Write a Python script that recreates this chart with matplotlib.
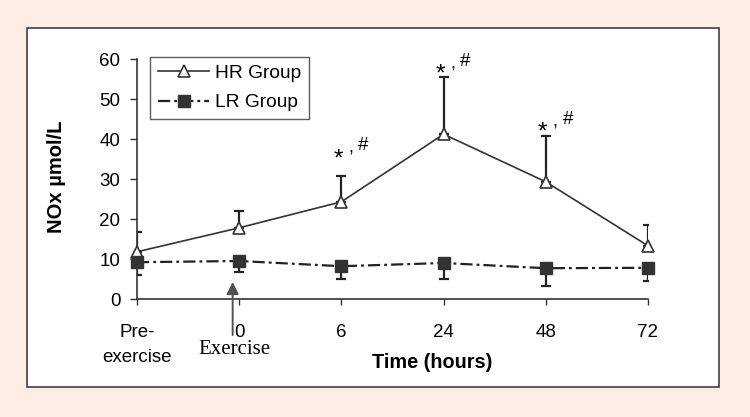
import matplotlib
matplotlib.use("Agg")
import matplotlib.pyplot as plt
from matplotlib.patches import Rectangle

categories = ["Pre-\nexercise", "0", "6", "24", "48", "72"]
hr_mean = [11.8, 17.8, 24.3, 41.2, 29.3, 13.3]
hr_err = [5.0, 4.3, 6.5, 14.2, 11.4, 5.2]
lr_mean = [9.2, 9.5, 8.2, 9.0, 7.7, 7.8]
lr_err = [3.2, 2.8, 3.2, 4.0, 4.4, 3.3]
sig_idx = [2, 3, 4]

plt.rcParams['font.family'] = ['Liberation Sans', 'DejaVu Sans']

fig = plt.figure(figsize=(7.5, 4.17), dpi=100)
fig.patch.set_facecolor('#FDEDE4')
fig.patches.append(Rectangle((27/750, 1-387/417), (719-27)/750, (387-28)/417,
                             transform=fig.transFigure, facecolor='white',
                             edgecolor='#404040', linewidth=1.2, zorder=-5))

ax = fig.add_axes([137/750, 1-299/417, (648-137)/750, (299-59)/417])
ax.set_facecolor('none')
x = list(range(len(categories)))

ax.errorbar(x, hr_mean, yerr=[[0]*len(x), hr_err], fmt='none', ecolor='#222222',
            elinewidth=1.6, capsize=3.8, capthick=1.6, zorder=2)
ax.errorbar(x, lr_mean, yerr=[lr_err, [0]*len(x)], fmt='none', ecolor='#222222',
            elinewidth=1.6, capsize=3.8, capthick=1.6, zorder=2)
ax.plot(x, hr_mean, '-', color='#333333', lw=1.2, marker='^', markersize=9,
        markerfacecolor='white', markeredgecolor='#333333', markeredgewidth=1.2,
        label='HR Group', zorder=3, clip_on=False)
ax.plot(x, lr_mean, color='#222222', lw=1.6, dashes=(5.5, 1.8, 1.3, 1.8), marker='s',
        markersize=8, markerfacecolor='#333333', markeredgecolor='#333333',
        label='LR Group', zorder=3, clip_on=False)

star_gap = [24, 10, 11]  # px above the error-bar cap (star centre)
for k, i in enumerate(sig_idx):
    top = hr_mean[i] + hr_err[i]
    g = star_gap[k]
    ax.annotate('*', (x[i], top), xytext=(-3 * 0.72, (g - 13.6) * 0.72),
                textcoords='offset points', ha='center', va='baseline',
                fontsize=17.5)
    ax.annotate(',', (x[i], top), xytext=(9 * 0.72, (g - 1) * 0.72),
                textcoords='offset points', ha='center', va='baseline',
                fontsize=13)
    ax.annotate('#', (x[i], top), xytext=(22 * 0.72, (g + 8 - 6.5) * 0.72),
                textcoords='offset points', ha='center', va='baseline',
                fontsize=13.5)

ax.set_xlim(0, len(x) - 1)
ax.set_ylim(0, 60)
ax.set_yticks(range(0, 61, 10))
ax.set_xticks(x)
ax.set_xticklabels(categories, linespacing=1.6)
ax.tick_params(axis='both', labelsize=13.5, width=1, color='#333333')
ax.tick_params(axis='x', pad=13.8, length=4.5)
ax.tick_params(axis='y', pad=7, length=5)
for s in ['top', 'right']:
    ax.spines[s].set_visible(False)
for s in ['left', 'bottom']:
    ax.spines[s].set_color('#333333')
    ax.spines[s].set_linewidth(1.2)

ax.set_ylabel('NOx µmol/L', fontsize=14.5, fontweight='bold')
ax.yaxis.set_label_coords((66 - 137) / 511, (299 - 177) / 240)
ax.text((432 - 137) / 511, (299 - 362) / 240, 'Time (hours)', transform=ax.transAxes,
        fontsize=14.3, fontweight='bold', ha='center', va='center')

ax.annotate('', xy=(0.936, 4.25), xytext=(0.936, -9.0),
            arrowprops=dict(arrowstyle='-|>', color='#505050', lw=1.4,
                            mutation_scale=18, shrinkA=0, shrinkB=0),
            annotation_clip=False)
ax.text(0.949, -12.75, 'Exercise', fontsize=15,
        family=['Liberation Serif', 'DejaVu Serif'], ha='center', va='center')

leg = ax.legend(loc='upper left', bbox_to_anchor=((150 - 137) / 511, (299 - 57) / 240),
                fontsize=13.8, frameon=True, fancybox=False, edgecolor='#333333',
                handlelength=2.7, handletextpad=0.3, borderpad=0.4,
                labelspacing=0.62, borderaxespad=0)
leg.get_frame().set_linewidth(1.0)

fig.savefig('out.png', dpi=100, facecolor=fig.get_facecolor())
